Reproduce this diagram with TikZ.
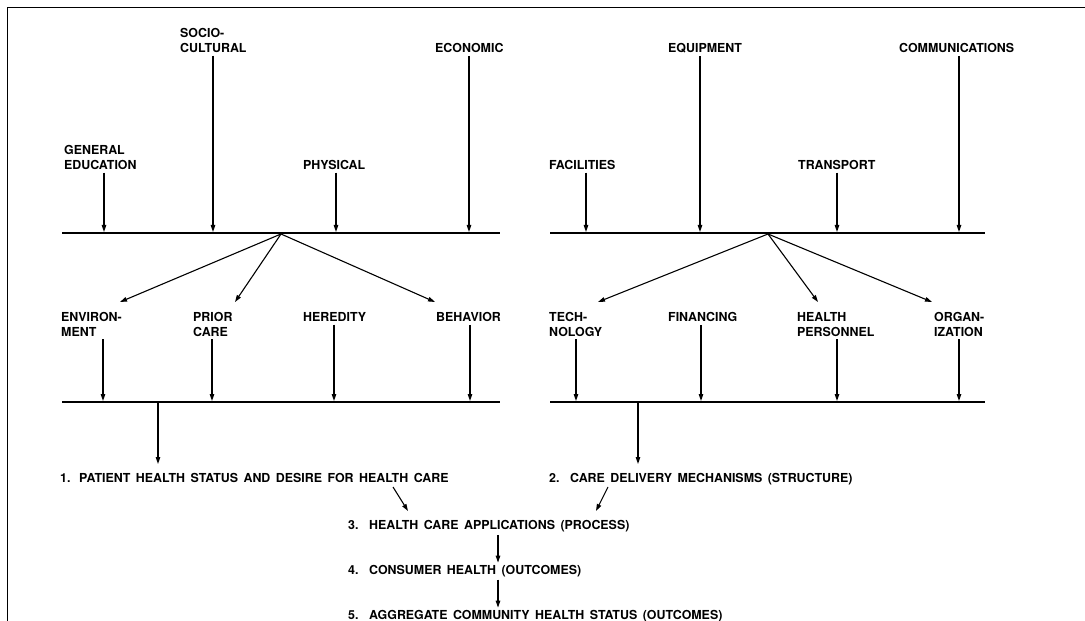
\documentclass[tikz,border=0pt]{standalone}
\usepackage{fontspec}
\setmainfont{TeX Gyre Heros}[WordSpace=1.6]
\usetikzlibrary{arrows.meta}
\begin{document}
\begin{tikzpicture}[x=1bp,y=-1bp,
  lbl/.style={anchor=base west, inner sep=0pt, align=left,
    font=\fontsize{12.4bp}{14.6bp}\selectfont\bfseries},
  bar/.style={line width=1.8bp},
  frame/.style={line width=1.6bp},
  arr/.style={line width=1.1bp, -{Triangle[length=7bp,width=4.5bp]}}]
\useasboundingbox (0,0) rectangle (1085,621);
\draw[frame] (7.5,621) -- (7.5,7.5) -- (1085,7.5);

% ---- upper factor labels (base = last line)
\node[lbl] (soc) at (180,52.4) {SOCIO-\\CULTURAL};
\node[lbl] (eco) at (435,52.5) {ECONOMIC};
\node[lbl] (equ) at (668,52.5) {EQUIPMENT};
\node[lbl] (com) at (899,52.5) {COMMUNICATIONS};
\node[lbl] (ged) at (64,169.3) {GENERAL\\EDUCATION};
\node[lbl] (phy) at (303,169.3) {PHYSICAL};
\node[lbl] (fac) at (549,169.3) {FACILITIES};
\node[lbl] (tra) at (798,169.3) {TRANSPORT};

% ---- upper bars
\coordinate (ubl1) at (62,233);  \coordinate (ubl2) at (500,233);
\coordinate (ubr1) at (550,233); \coordinate (ubr2) at (985,233);
\draw[bar] (ubl1) -- (ubl2);
\draw[bar] (ubr1) -- (ubr2);

\foreach \n/\x in {ged/104,soc/213,phy/336,eco/469,fac/586,equ/700,tra/837,com/959}{
  \coordinate (t-\n) at (\x,232);
  \draw[arr, shorten <=3bp] (\n.south -| t-\n) -- (t-\n);
}

% ---- middle factor labels
\node[lbl] (env) at (61,336)  {ENVIRON-\\MENT};
\node[lbl] (pri) at (193,336) {PRIOR\\CARE};
\node[lbl] (her) at (303,321.5) {HEREDITY};
\node[lbl] (beh) at (436,321.5) {BEHAVIOR};
\node[lbl] (tec) at (549,336) {TECH-\\NOLOGY};
\node[lbl] (fin) at (668,321.5) {FINANCING};
\node[lbl] (hpe) at (797,336) {HEALTH\\PERSONNEL};
\node[lbl] (org) at (934,336) {ORGAN-\\IZATION};

% ---- fan-out arrows from the upper bars
\coordinate (apl) at (281,234);
\coordinate (apr) at (768,234);
\coordinate (a-env) at (120,302);
\coordinate (a-pri) at (235,302);
\coordinate (a-beh) at (435,302);
\coordinate (a-tec) at (598,302);
\coordinate (a-hpe) at (818,302);
\coordinate (a-org) at (932,302);
\foreach \t in {env,pri,beh}{\draw[arr] (apl) -- (a-\t);}
\foreach \t in {tec,hpe,org}{\draw[arr] (apr) -- (a-\t);}

% ---- lower bars
\coordinate (lbl1) at (62,402);  \coordinate (lbl2) at (500,402);
\coordinate (lbr1) at (550,402); \coordinate (lbr2) at (985,402);
\draw[bar] (lbl1) -- (lbl2);
\draw[bar] (lbr1) -- (lbr2);

\foreach \n/\x in {env/103,pri/212,her/334,beh/470,tec/576,fin/701,hpe/837,org/959}{
  \coordinate (m-\n) at (\x,401);
  \draw[arr, shorten <=3bp] (\n.south -| m-\n) -- (m-\n);
}

% ---- numbered outcome chain
\node[lbl] (i1) at (60,482.5)  {\makebox[19bp][l]{1.}PATIENT HEALTH STATUS AND DESIRE FOR HEALTH CARE};
\node[lbl] (i2) at (549,482.5) {\makebox[21bp][l]{2.}CARE DELIVERY MECHANISMS (STRUCTURE)};
\node[lbl] (i3) at (348,529.3) {\makebox[21bp][l]{3.}HEALTH CARE APPLICATIONS (PROCESS)};
\node[lbl] (i4) at (348,574)   {\makebox[21bp][l]{4.}CONSUMER HEALTH (OUTCOMES)};
\node[lbl] (i5) at (348,619)   {\makebox[21bp][l]{5.}AGGREGATE COMMUNITY HEALTH STATUS (OUTCOMES)};

\coordinate (dl) at (158,403); \coordinate (dle) at (158,464);
\coordinate (dr) at (638,403); \coordinate (dre) at (638,464);
\draw[arr] (dl) -- (dle);
\draw[arr] (dr) -- (dre);

\coordinate (c1s) at (393,487); \coordinate (c1e) at (408,511);
\coordinate (c2s) at (608,487); \coordinate (c2e) at (596,511);
\draw[arr] (c1s) -- (c1e);
\draw[arr] (c2s) -- (c2e);
\coordinate (c3) at (498,0);
\draw[arr, shorten <=3bp, shorten >=2bp] (i3.south -| c3) -- (i4.north -| c3);
\draw[arr, shorten <=3bp, shorten >=2bp] (i4.south -| c3) -- (i5.north -| c3);
\end{tikzpicture}
\end{document}
